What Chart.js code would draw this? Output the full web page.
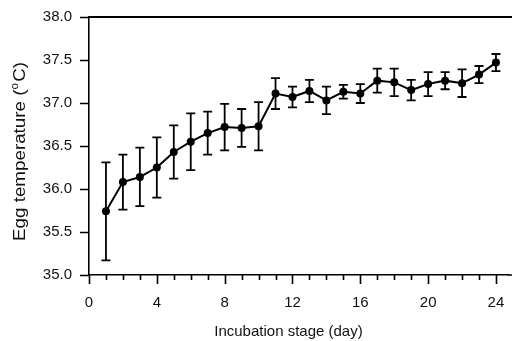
<!DOCTYPE html>
<html lang="en">
<head>
    <meta charset="utf-8">
    <title>Egg temperature</title>
    <script src="https://cdn.jsdelivr.net/npm/chart.js@4.4.1/dist/chart.umd.min.js"></script>
    <style>
        html, body { margin: 0; padding: 0; background: #fff; }
        #wrap { width: 512px; height: 341px; }
    </style>
</head>
<body>
<div id="wrap"><canvas id="gr" width="512" height="341"></canvas></div>
<script>
    // data (mean +/- error per incubation day)
    const days = [1, 2, 3, 4, 5, 6, 7, 8, 9, 10, 11, 12, 13, 14, 15, 16, 17, 18, 19, 20, 21, 22, 23, 24];
    const temps = [35.74, 36.08, 36.14, 36.25, 36.43, 36.55, 36.65, 36.72, 36.71, 36.73, 37.11, 37.07,
                   37.14, 37.03, 37.13, 37.11, 37.26, 37.24, 37.15, 37.22, 37.26, 37.23, 37.33, 37.47];
    const errs = [0.57, 0.32, 0.34, 0.35, 0.31, 0.33, 0.25, 0.27, 0.22, 0.28, 0.18, 0.12,
                  0.13, 0.16, 0.08, 0.11, 0.14, 0.16, 0.12, 0.14, 0.10, 0.16, 0.10, 0.10];
    const xTickLabels = [0, 4, 8, 12, 16, 20, 24];
    const xTitle = "Incubation stage (day)";
    const yTitleParts = ["Egg temperature (", "o", "C)"];

    const FONT = '"Liberation Sans", Arial, sans-serif';

    const points = days.map((d, i) => ({ x: d, y: temps[i] }));

    // error bars, drawn under the line and markers
    const errorBars = {
        id: 'errorBars',
        beforeDatasetsDraw(chart) {
            const ctx = chart.ctx, xs = chart.scales.x, ys = chart.scales.y;
            ctx.save();
            ctx.strokeStyle = '#000';
            ctx.lineWidth = 1.8;
            for (let i = 0; i < days.length; ++i) {
                const px = xs.getPixelForValue(days[i]);
                const top = ys.getPixelForValue(temps[i] + errs[i]);
                const bot = ys.getPixelForValue(temps[i] - errs[i]);
                ctx.beginPath();
                ctx.moveTo(px, top); ctx.lineTo(px, bot);
                ctx.moveTo(px - 4.5, top); ctx.lineTo(px + 4.5, top);
                ctx.moveTo(px - 4.5, bot); ctx.lineTo(px + 4.5, bot);
                ctx.stroke();
            }
            ctx.restore();
        }
    };

    // tick marks, top/bottom frame lines and the axis titles
    const frame = {
        id: 'frame',
        afterDraw(chart) {
            const ctx = chart.ctx, xs = chart.scales.x, ys = chart.scales.y, a = chart.chartArea;
            ctx.save();
            ctx.strokeStyle = '#000';
            ctx.lineWidth = 1.6;
            ctx.beginPath();
            xs.ticks.forEach(t => {
                const px = Math.round(xs.getPixelForValue(t.value)) + 0.5;
                const len = xTickLabels.includes(t.value) ? 9 : 5;
                ctx.moveTo(px, a.bottom); ctx.lineTo(px, a.bottom + len);
            });
            ys.ticks.forEach(t => {
                const py = Math.round(ys.getPixelForValue(t.value)) + 0.5;
                ctx.moveTo(a.left - 9, py); ctx.lineTo(a.left, py);
            });
            // bottom axis runs on to the edge of the figure
            ctx.moveTo(a.right, a.bottom); ctx.lineTo(chart.width, a.bottom);
            ctx.stroke();

            ctx.lineWidth = 2;
            ctx.beginPath();
            ctx.moveTo(a.left, a.top); ctx.lineTo(chart.width, a.top);
            ctx.stroke();

            ctx.fillStyle = '#111';
            // x title
            ctx.font = '15px ' + FONT;
            ctx.textAlign = 'center';
            ctx.textBaseline = 'alphabetic';
            const cx = (xs.getPixelForValue(0) + xs.getPixelForValue(24)) / 2 - 4;
            ctx.fillText(xTitle, cx, 336);

            // y title with superscript o
            ctx.translate(25, 151.5);
            ctx.rotate(-Math.PI / 2);
            ctx.textAlign = 'left';
            const big = '16px ' + FONT, small = '10px ' + FONT;
            ctx.font = big;
            const w0 = ctx.measureText(yTitleParts[0]).width;
            const w2 = ctx.measureText(yTitleParts[2]).width;
            ctx.font = small;
            const w1 = ctx.measureText(yTitleParts[1]).width + 1;
            const total = w0 + w1 + w2;
            ctx.scale(179 / total, 1);
            let x0 = -total / 2;
            ctx.font = big;
            ctx.fillText(yTitleParts[0], x0, 0);
            ctx.font = small;
            ctx.fillText(yTitleParts[1], x0 + w0, -7);
            ctx.font = big;
            ctx.fillText(yTitleParts[2], x0 + w0 + w1, 0);
            ctx.restore();
        }
    };

    new Chart(document.getElementById('gr').getContext('2d'), {
        type: 'line',
        data: {
            datasets: [{
                data: points,
                borderColor: '#000',
                borderWidth: 2,
                backgroundColor: '#000',
                pointBackgroundColor: '#000',
                pointBorderColor: '#000',
                pointRadius: 4,
                pointBorderWidth: 0,
                tension: 0,
                fill: false
            }]
        },
        options: {
            responsive: false,
            animation: false,
            layout: { padding: { top: 17, left: 0, right: 0, bottom: 0 } },
            plugins: { legend: { display: false }, tooltip: { enabled: false } },
            scales: {
                x: {
                    type: 'linear',
                    min: 0,
                    max: 24.71,
                    grid: { display: false },
                    border: { display: true, color: '#000', width: 1.6 },
                    ticks: {
                        stepSize: 1,
                        includeBounds: false,
                        autoSkip: false,
                        maxRotation: 0,
                        padding: 11,
                        color: '#111',
                        font: { size: 15, family: FONT },
                        callback: v => xTickLabels.includes(v) ? String(v) : ''
                    },
                    afterFit: s => { s.height = 66; s.paddingLeft = 0; s.paddingRight = 0; }
                },
                y: {
                    min: 35,
                    max: 38,
                    grid: { display: false },
                    border: { display: true, color: '#000', width: 1.6 },
                    ticks: {
                        stepSize: 0.5,
                        padding: 9,
                        color: '#111',
                        font: { size: 15, family: FONT },
                        callback: v => v.toFixed(1)
                    },
                    afterFit: s => { s.width = 89; s.paddingTop = 0; s.paddingBottom = 0; }
                }
            }
        },
        plugins: [errorBars, frame]
    });
</script>
</body>
</html>
